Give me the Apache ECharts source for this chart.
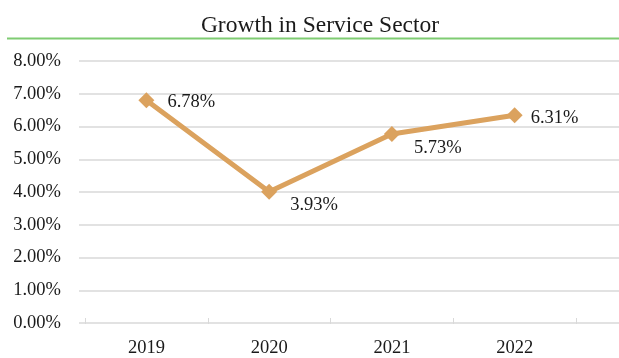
<!DOCTYPE html>
<html>
<head>
<meta charset="utf-8">
<script src="https://cdn.jsdelivr.net/npm/echarts@6/dist/echarts.min.js"></script>
<style>
  html, body { margin: 0; padding: 0; background: #fff; }
  #chart { width: 619px; height: 358px; }
</style>
</head>
<body>
<div id="chart"></div>
<script>
// Service sector growth by year (percent)
const years = ['2019', '2020', '2021', '2022'];
const growth = [6.78, 3.93, 5.73, 6.31];
const yTicks = { min: 0, max: 8, interval: 1 };

// label nudges per point, [dx, dy]
const labelNudges = [[0, 2], [0, 13], [1, 14], [-5, 3]];

const FONT = 'Liberation Serif';
const LINE_COLOR = '#dba25e';
const TEXT_SIZE = 18.5;

const chart = echarts.init(document.getElementById('chart'), null, { renderer: 'canvas' });

const plotTop = 61;
const plotBottom = 35;

chart.setOption({
  backgroundColor: '#ffffff',
  animation: false,
  title: {
    text: 'Growth in Service Sector',
    left: 315,
    textAlign: 'center',
    top: 9,
    textStyle: { fontFamily: FONT, fontSize: 23.5, fontWeight: 'normal', color: '#1a1a1a' }
  },
  graphic: [{
    type: 'line',
    shape: { x1: 7, y1: 38.5, x2: 619, y2: 38.5 },
    style: { stroke: '#7fcc72', lineWidth: 2 },
    silent: true
  }],
  grid: [
    // plot area holding the series and category ticks
    { left: 85, right: 43, top: plotTop, bottom: plotBottom },
    // wider area carrying the value gridlines and labels
    { left: 79, right: 0, top: plotTop, bottom: plotBottom }
  ],
  xAxis: [
    {
      type: 'category',
      gridIndex: 0,
      data: years,
      boundaryGap: true,
      axisLine: { show: false },
      axisTick: { show: true, length: 6, lineStyle: { color: '#d9d9d9', width: 1 } },
      axisLabel: { fontFamily: FONT, fontSize: TEXT_SIZE, color: '#1a1a1a', margin: 21 }
    },
    { type: 'category', gridIndex: 1, data: years, show: false }
  ],
  yAxis: [
    {
      type: 'value', gridIndex: 0,
      min: yTicks.min, max: yTicks.max, interval: yTicks.interval,
      show: false, splitLine: { show: false }
    },
    {
      type: 'value', gridIndex: 1,
      min: yTicks.min, max: yTicks.max, interval: yTicks.interval,
      axisLine: { show: false },
      axisTick: { show: false },
      axisLabel: {
        fontFamily: FONT, fontSize: TEXT_SIZE, color: '#1a1a1a', margin: 18,
        formatter: v => v.toFixed(2) + '%'
      },
      splitLine: { lineStyle: { color: '#d9d9d9', width: 1.5 } }
    }
  ],
  series: [{
    type: 'line',
    xAxisIndex: 0,
    yAxisIndex: 0,
    data: growth.map((v, i) => ({
      value: v,
      label: { offset: labelNudges[i] }
    })),
    symbol: 'diamond',
    symbolSize: 16,
    lineStyle: { color: LINE_COLOR, width: 5 },
    itemStyle: { color: LINE_COLOR },
    label: {
      show: true,
      position: 'right',
      distance: 13,
      fontFamily: FONT,
      fontSize: TEXT_SIZE,
      color: '#1a1a1a',
      formatter: p => p.value.toFixed(2) + '%'
    },
    z: 5
  }]
});
</script>
</body>
</html>
